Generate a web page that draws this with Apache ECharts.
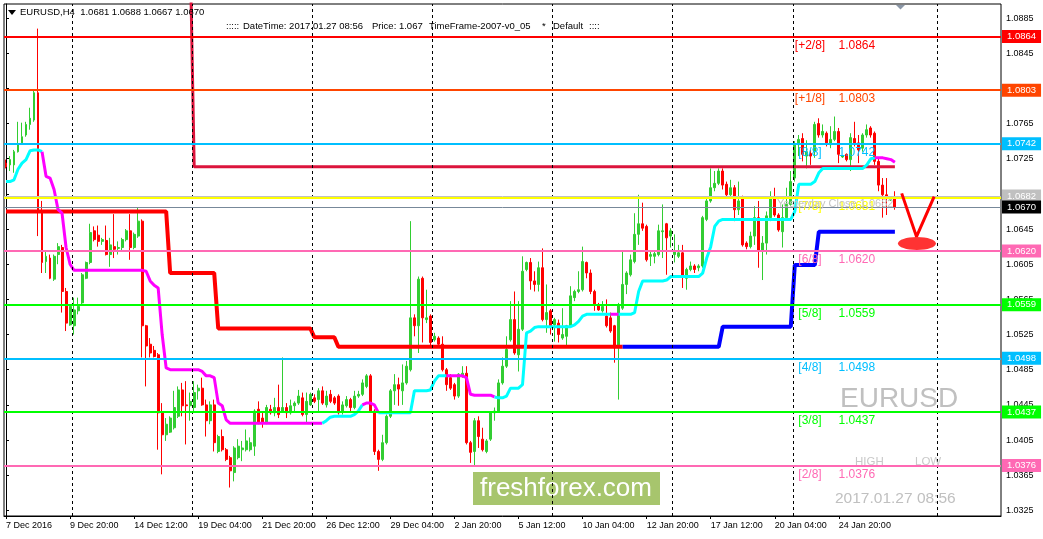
<!DOCTYPE html>
<html><head><meta charset="utf-8">
<script src="https://cdn.jsdelivr.net/npm/echarts@6/dist/echarts.min.js"></script>
<style>html,body{margin:0;padding:0;background:#fff;}#c{width:1043px;height:539px;}</style>
</head><body><div id="c"></div>
<script>
// ---------- DATA ----------
const opens = [
1.0720,1.0718,1.0718,1.0733,1.0743,1.0752,1.0764,1.0769,1.0800,1.0665,
1.0608,1.0612,1.0588,1.0616,1.0624,1.0574,1.0536,1.0535,1.0552,1.0561,
1.0589,1.0607,1.0643,1.0638,1.0631,1.0632,1.0616,1.0625,1.0623,1.0624,
1.0633,1.0643,1.0624,1.0637,1.0654,1.0535,1.0514,1.0507,1.0502,1.0436,
1.0411,1.0414,1.0419,1.0432,1.0462,1.0445,1.0444,1.0442,1.0461,1.0464,
1.0445,1.0427,1.0445,1.0392,1.0409,1.0394,1.0385,1.0368,1.0385,1.0394,
1.0394,1.0394,1.0398,1.0440,1.0430,1.0425,1.0440,1.0436,1.0442,1.0438,
1.0442,1.0436,1.0444,1.0447,1.0453,1.0434,1.0445,1.0453,1.0451,1.0461,
1.0445,1.0457,1.0453,1.0455,1.0438,1.0444,1.0451,1.0442,1.0455,1.0457,
1.0466,1.0478,1.0438,1.0392,1.0383,1.0402,1.0432,1.0461,1.0468,1.0461,
1.0470,1.0485,1.0544,1.0535,1.0589,1.0542,1.0546,1.0519,1.0521,1.0514,
1.0485,1.0476,1.0468,1.0455,1.0477,1.0481,1.0402,1.0392,1.0427,1.0406,
1.0392,1.0406,1.0436,1.0438,1.0470,1.0489,1.0519,1.0542,1.0502,1.0531,
1.0599,1.0607,1.0586,1.0582,1.0601,1.0542,1.0552,1.0536,1.0538,1.0521,
1.0523,1.0535,1.0567,1.0574,1.0576,1.0607,1.0595,1.0574,1.0559,1.0552,
1.0546,1.0544,1.0535,1.0510,1.0555,1.0582,1.0593,1.0608,1.0639,1.0651,
1.0648,1.0614,1.0614,1.0616,1.0642,1.0651,1.0637,1.0616,1.0614,1.0618,
1.0589,1.0599,1.0603,1.0601,1.0603,1.0656,1.0677,1.0692,1.0697,1.0711,
1.0696,1.0684,1.0692,1.0667,1.0682,1.0629,1.0625,1.0637,1.0658,1.0620,
1.0629,1.0658,1.0680,1.0661,1.0642,1.0658,1.0673,1.0703,1.0741,1.0748,
1.0728,1.0731,1.0733,1.0765,1.0752,1.0754,1.0741,1.0747,1.0756,1.0727,
1.0730,1.0724,1.0748,1.0743,1.0737,1.0752,1.0760,1.0754,1.0722,1.0695,
1.0684,1.0678,1.0681];
const highs = [
1.0724,1.0728,1.0735,1.0767,1.0766,1.0767,1.0783,1.0802,1.0873,1.0677,
1.0620,1.0616,1.0616,1.0629,1.0627,1.0578,1.0559,1.0567,1.0567,1.0595,
1.0608,1.0651,1.0648,1.0649,1.0635,1.0649,1.0635,1.0662,1.0631,1.0635,
1.0645,1.0662,1.0641,1.0669,1.0656,1.0536,1.0521,1.0512,1.0504,1.0447,
1.0430,1.0432,1.0461,1.0466,1.0470,1.0472,1.0459,1.0472,1.0468,1.0476,
1.0451,1.0449,1.0451,1.0411,1.0417,1.0396,1.0387,1.0398,1.0406,1.0404,
1.0417,1.0408,1.0440,1.0449,1.0438,1.0445,1.0445,1.0453,1.0468,1.0499,
1.0447,1.0451,1.0449,1.0462,1.0459,1.0459,1.0459,1.0457,1.0464,1.0466,
1.0461,1.0462,1.0455,1.0457,1.0449,1.0455,1.0453,1.0461,1.0461,1.0474,
1.0480,1.0480,1.0440,1.0394,1.0411,1.0434,1.0463,1.0480,1.0476,1.0491,
1.0495,1.0654,1.0548,1.0591,1.0591,1.0576,1.0548,1.0527,1.0523,1.0523,
1.0487,1.0480,1.0470,1.0481,1.0489,1.0489,1.0404,1.0430,1.0432,1.0419,
1.0406,1.0438,1.0442,1.0474,1.0499,1.0523,1.0563,1.0574,1.0563,1.0614,
1.0608,1.0612,1.0597,1.0608,1.0623,1.0582,1.0554,1.0544,1.0542,1.0555,
1.0536,1.0580,1.0576,1.0597,1.0625,1.0608,1.0599,1.0576,1.0561,1.0563,
1.0565,1.0550,1.0536,1.0561,1.0620,1.0597,1.0616,1.0663,1.0684,1.0675,
1.0650,1.0620,1.0619,1.0650,1.0673,1.0652,1.0646,1.0639,1.0627,1.0627,
1.0601,1.0608,1.0605,1.0605,1.0660,1.0680,1.0714,1.0711,1.0714,1.0714,
1.0699,1.0701,1.0695,1.0699,1.0683,1.0631,1.0642,1.0671,1.0677,1.0637,
1.0665,1.0688,1.0692,1.0663,1.0673,1.0692,1.0711,1.0745,1.0752,1.0754,
1.0746,1.0735,1.0767,1.0771,1.0764,1.0756,1.0762,1.0773,1.0760,1.0729,
1.0731,1.0754,1.0767,1.0752,1.0754,1.0764,1.0762,1.0756,1.0726,1.0703,
1.0703,1.0682,1.0688];
const lows = [
1.0714,1.0711,1.0709,1.0732,1.0741,1.0750,1.0758,1.0767,1.0637,1.0595,
1.0595,1.0588,1.0586,1.0605,1.0550,1.0529,1.0535,1.0525,1.0548,1.0559,
1.0588,1.0605,1.0631,1.0625,1.0627,1.0615,1.0602,1.0612,1.0616,1.0620,
1.0631,1.0610,1.0622,1.0635,1.0499,1.0466,1.0499,1.0499,1.0394,1.0366,
1.0404,1.0413,1.0417,1.0430,1.0432,1.0400,1.0427,1.0436,1.0451,1.0444,
1.0409,1.0423,1.0392,1.0390,1.0392,1.0381,1.0351,1.0358,1.0383,1.0381,
1.0392,1.0392,1.0387,1.0423,1.0419,1.0423,1.0434,1.0432,1.0430,1.0436,
1.0430,1.0434,1.0436,1.0445,1.0432,1.0425,1.0444,1.0447,1.0438,1.0445,
1.0442,1.0447,1.0445,1.0434,1.0434,1.0442,1.0438,1.0440,1.0453,1.0455,
1.0464,1.0436,1.0388,1.0370,1.0381,1.0400,1.0430,1.0445,1.0444,1.0445,
1.0468,1.0483,1.0523,1.0504,1.0516,1.0538,1.0512,1.0517,1.0512,1.0483,
1.0461,1.0462,1.0451,1.0453,1.0476,1.0400,1.0379,1.0375,1.0396,1.0392,
1.0390,1.0404,1.0427,1.0436,1.0468,1.0487,1.0517,1.0502,1.0483,1.0529,
1.0597,1.0576,1.0574,1.0574,1.0540,1.0527,1.0525,1.0517,1.0516,1.0519,
1.0512,1.0533,1.0563,1.0572,1.0574,1.0589,1.0571,1.0552,1.0552,1.0550,
1.0533,1.0527,1.0493,1.0451,1.0553,1.0571,1.0591,1.0606,1.0627,1.0643,
1.0608,1.0603,1.0606,1.0614,1.0612,1.0593,1.0624,1.0607,1.0612,1.0578,
1.0576,1.0597,1.0595,1.0597,1.0601,1.0654,1.0675,1.0688,1.0695,1.0690,
1.0680,1.0682,1.0654,1.0661,1.0625,1.0622,1.0623,1.0627,1.0601,1.0587,
1.0616,1.0654,1.0659,1.0642,1.0624,1.0656,1.0671,1.0699,1.0728,1.0722,
1.0714,1.0718,1.0726,1.0749,1.0749,1.0739,1.0737,1.0745,1.0720,1.0726,
1.0722,1.0711,1.0739,1.0720,1.0733,1.0749,1.0749,1.0718,1.0688,1.0658,
1.0661,1.0677,1.0667];
const closes = [
1.0716,1.0724,1.0733,1.0741,1.0750,1.0764,1.0771,1.0800,1.0665,1.0607,
1.0614,1.0589,1.0614,1.0625,1.0574,1.0538,1.0557,1.0553,1.0557,1.0593,
1.0607,1.0641,1.0633,1.0631,1.0633,1.0616,1.0627,1.0622,1.0624,1.0633,
1.0643,1.0624,1.0639,1.0654,1.0535,1.0512,1.0504,1.0500,1.0436,1.0411,
1.0423,1.0430,1.0442,1.0462,1.0444,1.0444,1.0449,1.0459,1.0464,1.0445,
1.0427,1.0445,1.0402,1.0409,1.0394,1.0383,1.0370,1.0396,1.0398,1.0396,
1.0404,1.0402,1.0438,1.0425,1.0425,1.0442,1.0436,1.0442,1.0434,1.0442,
1.0436,1.0444,1.0447,1.0455,1.0434,1.0449,1.0457,1.0449,1.0461,1.0447,
1.0455,1.0449,1.0447,1.0436,1.0445,1.0451,1.0442,1.0455,1.0457,1.0470,
1.0478,1.0438,1.0392,1.0383,1.0402,1.0432,1.0461,1.0468,1.0463,1.0470,
1.0489,1.0544,1.0535,1.0588,1.0544,1.0544,1.0516,1.0523,1.0514,1.0485,
1.0468,1.0464,1.0455,1.0480,1.0481,1.0402,1.0391,1.0427,1.0409,1.0394,
1.0404,1.0436,1.0438,1.0470,1.0489,1.0508,1.0542,1.0504,1.0531,1.0597,
1.0607,1.0586,1.0582,1.0601,1.0542,1.0550,1.0535,1.0542,1.0525,1.0525,
1.0535,1.0569,1.0574,1.0576,1.0608,1.0595,1.0574,1.0559,1.0553,1.0557,
1.0535,1.0529,1.0510,1.0559,1.0582,1.0595,1.0610,1.0639,1.0651,1.0646,
1.0610,1.0616,1.0617,1.0643,1.0643,1.0635,1.0643,1.0620,1.0618,1.0591,
1.0599,1.0603,1.0599,1.0603,1.0658,1.0677,1.0692,1.0697,1.0711,1.0695,
1.0684,1.0692,1.0667,1.0677,1.0627,1.0625,1.0637,1.0658,1.0620,1.0629,
1.0660,1.0680,1.0661,1.0644,1.0658,1.0673,1.0699,1.0741,1.0747,1.0730,
1.0733,1.0728,1.0764,1.0752,1.0756,1.0743,1.0747,1.0756,1.0730,1.0728,
1.0724,1.0749,1.0743,1.0735,1.0752,1.0758,1.0752,1.0722,1.0695,1.0684,
1.0682,1.0680,1.0670];

// trailing line (cyan when up, magenta when down), one value per bar
const trail = [
1.0699,1.0699,1.0701,1.0713,1.0720,1.0724,1.0734,1.0735,1.0735,1.0733,
1.0705,1.0703,1.0690,1.0667,1.0663,1.0624,1.0605,1.0598,1.0598,1.0598,
1.0598,1.0598,1.0598,1.0598,1.0598,1.0598,1.0598,1.0598,1.0598,1.0598,
1.0598,1.0598,1.0598,1.0598,1.0598,1.0597,1.0586,1.0581,1.0578,1.0525,
1.0487,1.0485,1.0485,1.0485,1.0485,1.0485,1.0485,1.0485,1.0485,1.0483,
1.0478,1.0478,1.0476,1.0447,1.0444,1.0428,1.0424,1.0424,1.0424,1.0424,
1.0424,1.0424,1.0424,1.0424,1.0424,1.0424,1.0424,1.0424,1.0424,1.0424,
1.0424,1.0424,1.0424,1.0424,1.0424,1.0424,1.0424,1.0424,1.0424,1.0424,
1.0427,1.0431,1.0432,1.0432,1.0432,1.0432,1.0432,1.0434,1.0438,1.0445,
1.0447,1.0447,1.0445,1.0436,1.0436,1.0436,1.0436,1.0436,1.0436,1.0436,
1.0436,1.0436,1.0461,1.0461,1.0461,1.0461,1.0462,1.0472,1.0478,1.0478,
1.0478,1.0478,1.0478,1.0478,1.0478,1.0476,1.0457,1.0456,1.0456,1.0456,
1.0456,1.0456,1.0454,1.0453,1.0453,1.0455,1.0464,1.0464,1.0464,1.0468,
1.0527,1.0529,1.0533,1.0534,1.0534,1.0534,1.0534,1.0534,1.0534,1.0534,
1.0534,1.0534,1.0536,1.0540,1.0546,1.0548,1.0548,1.0548,1.0548,1.0548,
1.0548,1.0548,1.0548,1.0548,1.0548,1.0548,1.0548,1.0550,1.0574,1.0586,
1.0586,1.0586,1.0586,1.0586,1.0586,1.0587,1.0591,1.0591,1.0591,1.0591,
1.0591,1.0591,1.0591,1.0591,1.0595,1.0612,1.0625,1.0648,1.0654,1.0656,
1.0656,1.0656,1.0656,1.0656,1.0656,1.0656,1.0656,1.0656,1.0656,1.0656,
1.0656,1.0656,1.0656,1.0656,1.0656,1.0656,1.0656,1.0665,1.0696,1.0696,
1.0696,1.0696,1.0699,1.0709,1.0714,1.0714,1.0714,1.0714,1.0714,1.0714,
1.0714,1.0714,1.0714,1.0714,1.0714,1.0718,1.0725,1.0726,1.0726,1.0726,
1.0725,1.0724,1.0721];
// bars where the trailing line switches colour (starts cyan)
const trailColorBreaks = [9, 79, 89, 93, 110, 122, 151, 153, 217];

// stop line (red above price, then blue below price): corner points
const stopBars   = [0, 40, 41, 52, 53, 76, 77, 82, 83, 178, 179, 196, 197, 202, 203, 222];
const stopValues = [1.0665,1.0665,1.0595,1.0595,1.0532,1.0532,1.0522,1.0522,1.0511,1.0511,1.0534,1.0534,1.0604,1.0604,1.0642,1.0642];
const stopColorBreak = 154;

// crimson upper line: corner points (first one above the visible range)
const upperBars = [46, 47, 222];
const upperValues = [1.0960, 1.0716, 1.0716];

const timeLabelBars = [0,16,32,48,64,80,96,112,128,144,160,176,192,208];
const timeLabels = ['7 Dec 2016','9 Dec 20:00','14 Dec 12:00','19 Dec 04:00','21 Dec 20:00','26 Dec 12:00','29 Dec 04:00','2 Jan 20:00','5 Jan 12:00','10 Jan 04:00','12 Jan 20:00','17 Jan 12:00','20 Jan 04:00','24 Jan 20:00'];
const priceTicks = [1.0325,1.0365,1.0405,1.0445,1.0485,1.0525,1.0565,1.0605,1.0645,1.0685,1.0725,1.0765,1.0805,1.0845,1.0885];
const weekSeparators = [16.5,46.5,76.5,106.5,136.5,166.5,196.5,232.5];

const murrayNames  = ['[+2/8]','[+1/8]','[8/8]','[7/8]','[6/8]','[5/8]','[4/8]','[3/8]','[2/8]'];
const murrayValues = [1.0864,1.0803,1.0742,1.0681,1.0620,1.0559,1.0498,1.0437,1.0376];
const murrayColors = ['#FF0000','#FF4500','#00BFFF','#FFFF00','#FF69B4','#00FF00','#00BFFF','#00FF00','#FF69B4'];
const murrayTagged = [true,true,true,false,true,true,true,true,true];
const yesterdayClose = 1.0682;
const lastPrice = 1.0670;

// ---------- CHART ----------
const FONT = "'Liberation Sans', Arial, sans-serif";
const chart = echarts.init(document.getElementById('c'));

const candleData = opens.map((o, i) => [i, o, closes[i], lows[i], highs[i]]);

function lineSeries(data, color, width, z) {
  return { type: 'line', data: data, showSymbol: false, symbol: 'none', z: z, silent: true,
           lineStyle: { width: width, color: color }, itemStyle: { color: color } };
}

// trail segments
const trailSeries = [];
const trailCols = ['#00FFFF', '#FF00FF'];
const bounds = [0].concat(trailColorBreaks, [trail.length - 1]);
for (let k = 0; k < bounds.length - 1; k++) {
  const a = bounds[k], b = bounds[k + 1];
  const seg = [];
  for (let i = a; i <= b; i++) seg.push([i, trail[i]]);
  trailSeries.push(lineSeries(seg, trailCols[k % 2], 3, 3));
}
// stop line split into red and blue parts
const redPart = [], bluePart = [];
let breakVal = null;
stopBars.forEach((b, i) => {
  if (b <= stopColorBreak) { redPart.push([b, stopValues[i]]); breakVal = stopValues[i]; }
});
redPart.push([stopColorBreak, breakVal]);
bluePart.push([stopColorBreak, breakVal]);
stopBars.forEach((b, i) => { if (b > stopColorBreak) bluePart.push([b, stopValues[i]]); });

function boxLabel(text, bg, fg) {
  return { show: true, position: 'end', formatter: text, backgroundColor: bg, color: fg || '#fff',
           padding: [1, 5, 0, 5], distance: 1, fontSize: 9.5, lineHeight: 12, fontFamily: FONT };
}
const levelLines = [];
murrayValues.forEach((v, i) => {
  levelLines.push({ yAxis: v, lineStyle: { color: murrayColors[i], width: 2, type: 'solid' },
    label: murrayTagged[i] ? boxLabel(v.toFixed(4), murrayColors[i]) : { show: false } });
});
levelLines.push({ yAxis: yesterdayClose + 0.00005, lineStyle: { color: '#C0C0C0', width: 1, type: 'solid' },
  label: boxLabel(yesterdayClose.toFixed(4), '#C0C0C0') });
levelLines.push({ yAxis: lastPrice, lineStyle: { color: '#778899', width: 1, type: 'solid' },
  label: boxLabel(lastPrice.toFixed(4), '#000000') });

const series = [
  { type: 'line', data: [[-5, 1.06]], showSymbol: false, z: 1, silent: true, lineStyle: { width: 0 },
    markLine: { silent: true, precision: 5, symbol: ['none', 'none'], animation: false, label: { show: false },
      lineStyle: { color: '#000', width: 1, type: [3, 3] },
      data: weekSeparators.map(b => ({ xAxis: b })) } },
  { type: 'candlestick', data: candleData, barWidth: 2.4, z: 2, silent: true,
    itemStyle: { color: '#32CD32', color0: '#FF0000', borderColor: '#32CD32', borderColor0: '#FF0000',
                 borderColorDoji: '#32CD32', borderWidth: 1 } },
  lineSeries(redPart, '#FF0000', 4, 3),
  lineSeries(bluePart, '#0000FF', 4, 3),
  lineSeries(upperBars.map((b, i) => [b, upperValues[i]]), '#DC143C', 3, 3)
].concat(trailSeries);
series.push({ type: 'line', data: [[-5, 1.06]], showSymbol: false, z: 4, clip: false, silent: true, lineStyle: { width: 0 },
  markLine: { silent: true, precision: 5, symbol: ['none', 'none'], animation: false, data: levelLines } });

const option = {
  animation: false,
  backgroundColor: '#ffffff',
  textStyle: { fontFamily: FONT },
  grid: { left: 4, right: 42, top: 4, bottom: 23, show: true, borderColor: '#000', borderWidth: 1,
          containLabel: false, outerBoundsMode: 'none' },
  xAxis: {
    type: 'value', min: -0.5, max: 248.5, position: 'bottom',
    axisLine: { show: true, lineStyle: { color: '#000', width: 1 } },
    axisTick: { show: true, length: 3, lineStyle: { color: '#000' }, customValues: timeLabelBars },
    axisLabel: { show: true, customValues: timeLabelBars, align: 'left', margin: 5, color: '#000', fontSize: 9,
                 fontFamily: FONT,
                 formatter: v => { const k = timeLabelBars.indexOf(Math.round(v)); return k >= 0 ? timeLabels[k] : ''; } },
    splitLine: { show: false }
  },
  yAxis: {
    type: 'value', position: 'right', min: 1.03186, max: 1.09010,
    axisLine: { show: true, lineStyle: { color: '#000', width: 1 } },
    axisTick: { show: true, length: 3, lineStyle: { color: '#000' }, customValues: priceTicks },
    axisLabel: { show: true, customValues: priceTicks, margin: 5, color: '#000', fontSize: 9, fontFamily: FONT,
                 formatter: v => v.toFixed(4) },
    splitLine: { show: false }
  },
  series: series
};
chart.setOption(option);

// ---------- TEXT / ANNOTATIONS ----------
const P = (x, y) => chart.convertToPixel({ seriesIndex: 1 }, [x, y]);
const g = [];
function txt(x, y, s, size, fill, align) {
  g.push({ type: 'text', x: x, y: y, z: 50,
    style: { text: s, fill: fill, font: size + 'px ' + FONT, textAlign: align || 'left', textVerticalAlign: 'middle' } });
}
// header
g.push({ type: 'polygon', z: 50, shape: { points: [[8, 10], [16, 10], [12, 15]] }, style: { fill: '#000' } });
txt(20, 12.5, 'EURUSD,H4  1.0681 1.0688 1.0667 1.0670', 9.5, '#000');
txt(226, 26, ':::::', 9.5, '#000');
txt(243, 26, 'DateTime: 2017.01.27 08:56', 9.5, '#000');
txt(372, 26, 'Price: 1.067', 9.5, '#000');
txt(429, 26, 'TimeFrame-2007-v0_05', 9.5, '#000');
txt(542, 26, '*', 9.5, '#000');
txt(553, 26, 'Default', 9.5, '#000');
txt(589, 26, '::::', 9.5, '#000');
// shift marker
g.push({ type: 'polygon', z: 50, shape: { points: [[896, 5], [905, 5], [900.5, 9.5]] }, style: { fill: '#8a96a6' } });

// Murray level texts
const tagX = P(200.8, 1.06)[0];
const numX = P(212.5, 1.06)[0];
murrayValues.forEach((v, i) => {
  const y = P(0, v)[1] + 9;
  txt(tagX, y, murrayNames[i], 12, murrayColors[i], 'center');
  txt(numX, y, v.toFixed(4), 12, murrayColors[i], 'center');
});
txt(777, P(0, yesterdayClose)[1] + 7, 'Yesterday Close 1.0682', 11, '#C4C4C4', 'left');

// watermark texts
txt(840, 399, 'EURUSD', 28, '#C0C0C0');
txt(855, 462, 'HIGH', 11.5, '#C8C8C8');
txt(915, 462, 'LOW', 11.5, '#C8C8C8');
txt(835, 499, '2017.01.27 08:56', 15.5, '#C0C0C0');

// freshforex box
g.push({ type: 'rect', z: 0, shape: { x: 473, y: 472, width: 187, height: 33 }, style: { fill: '#A7C56D' } });
g.push({ type: 'text', z: 0, x: 566, y: 489, style: { text: 'freshforex.com', fill: '#fff', font: '26px ' + FONT,
  textAlign: 'center', textVerticalAlign: 'middle' } });

// red V annotation (in data coordinates)
const v1 = P(223.7, 1.06856), v2 = P(227.4, 1.06363), v3 = P(231.8, 1.06818);
g.push({ type: 'polyline', z: 60, shape: { points: [v1, v2, v3] }, style: { stroke: '#FF0000', lineWidth: 3, fill: null } });
const ec = P(227.5, 1.06285);
g.push({ type: 'ellipse', z: 60, shape: { cx: ec[0], cy: ec[1], rx: 19, ry: 6.5 }, style: { fill: '#FF3333' } });

chart.setOption({ graphic: g });
</script>
</body></html>
